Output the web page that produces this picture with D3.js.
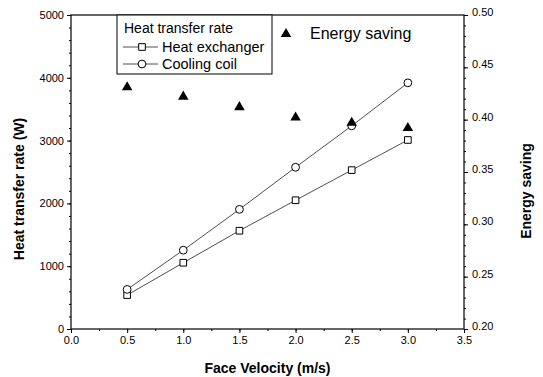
<!DOCTYPE html>
<html>
<head>
<meta charset="utf-8">
<script src="https://cdn.jsdelivr.net/npm/d3@7/dist/d3.min.js"></script>
<style>
  html, body { margin: 0; padding: 0; background: #fff; }
  svg { display: block; font-family: "Liberation Sans", Arial, sans-serif; }
  .axis path, .axis line { stroke: #000; }
  .axis text { font-size: 11px; fill: #000; }
</style>
</head>
<body>
<svg id="chart" width="543" height="377"></svg>
<script>
const velocity = [0.5, 1.0, 1.5, 2.0, 2.5, 3.0];
const heatExchanger = [540, 1055, 1565, 2050, 2530, 3010];
const coolingCoil = [630, 1255, 1905, 2575, 3235, 3920];
const energySaving = [0.431, 0.422, 0.412, 0.402, 0.397, 0.392];

const xTicks = [0, 0.5, 1.0, 1.5, 2.0, 2.5, 3.0, 3.5];
const yLeftTicks = [0, 1000, 2000, 3000, 4000, 5000];
const yRightTicks = [0.20, 0.25, 0.30, 0.35, 0.40, 0.45, 0.50];

const xTitle = "Face Velocity (m/s)";
const yLeftTitle = "Heat transfer rate (W)";
const yRightTitle = "Energy saving";
const legendTitle = "Heat transfer rate";
const seriesNames = ["Heat exchanger", "Cooling coil"];
const energyLabel = "Energy saving";

const svg = d3.select("#chart");
const L = 71, R = 464, T = 15, B = 329;

const x = d3.scaleLinear().domain([0, 3.5]).range([L, R]);
const yL = d3.scaleLinear().domain([0, 5000]).range([B, T]);
const yR = d3.scaleLinear().domain([0.20, 0.50]).range([B, T]);

// frame
svg.append("rect").attr("x", L).attr("y", T).attr("width", R - L).attr("height", B - T)
  .attr("fill", "none").attr("stroke", "#000").attr("stroke-width", 1.2);

// minor ticks
svg.append("g").attr("class", "axis").attr("transform", `translate(0,${B})`)
  .call(d3.axisBottom(x).tickValues(d3.range(0, 3.51, 0.25)).tickSize(2).tickSizeOuter(0).tickFormat(""))
  .call(g => g.select(".domain").remove());
svg.append("g").attr("class", "axis").attr("transform", `translate(${L},0)`)
  .call(d3.axisLeft(yL).tickValues(d3.range(0, 5001, 200)).tickSize(2).tickSizeOuter(0).tickFormat(""))
  .call(g => g.select(".domain").remove());
svg.append("g").attr("class", "axis").attr("transform", `translate(${R},0)`)
  .call(d3.axisRight(yR).tickValues(d3.range(0, 31, 1).map(i => 0.20 + i * 0.01)).tickSize(2).tickSizeOuter(0).tickFormat(""))
  .call(g => g.select(".domain").remove());

// major axes
svg.append("g").attr("class", "axis").attr("transform", `translate(0,${B})`)
  .call(d3.axisBottom(x).tickValues(xTicks).tickSize(4).tickSizeOuter(0).tickPadding(3).tickFormat(d3.format(".1f")))
  .call(g => g.select(".domain").remove());
svg.append("g").attr("class", "axis").attr("transform", `translate(${L},0)`)
  .call(d3.axisLeft(yL).tickValues(yLeftTicks).tickSize(4).tickSizeOuter(0).tickPadding(3).tickFormat(d3.format("d")))
  .call(g => g.select(".domain").remove());
svg.append("g").attr("class", "axis").attr("transform", `translate(${R},0)`)
  .call(d3.axisRight(yR).tickValues(yRightTicks).tickSize(4).tickSizeOuter(0).tickPadding(4).tickFormat(d3.format(".2f")))
  .call(g => g.select(".domain").remove())
  .call(g => g.selectAll("text").attr("dy", "0.05em"));

// axis titles
svg.append("text").attr("x", (L + R) / 2).attr("y", 373).attr("text-anchor", "middle")
  .attr("font-size", 14).attr("font-weight", "bold").text(xTitle);
svg.append("text").attr("transform", `translate(24,189) rotate(-90)`).attr("text-anchor", "middle")
  .attr("font-size", 14).attr("font-weight", "bold").text(yLeftTitle);
svg.append("text").attr("transform", `translate(531,191) rotate(-90)`).attr("text-anchor", "middle")
  .attr("font-size", 14).attr("font-weight", "bold").text(yRightTitle);

// lines
const lineHX = d3.line().x((d, i) => x(velocity[i])).y(d => yL(d));
svg.append("path").attr("d", lineHX(heatExchanger)).attr("fill", "none").attr("stroke", "#222").attr("stroke-width", 0.8);
svg.append("path").attr("d", lineHX(coolingCoil)).attr("fill", "none").attr("stroke", "#222").attr("stroke-width", 0.8);

const sq = d3.symbol().type(d3.symbolSquare).size(44);
const ci = d3.symbol().type(d3.symbolCircle).size(48);
const tri = d3.symbol().type(d3.symbolTriangle).size(48);

svg.append("g").selectAll("path").data(heatExchanger).join("path")
  .attr("d", sq).attr("transform", (d, i) => `translate(${x(velocity[i])},${yL(d)})`)
  .attr("fill", "#fff").attr("stroke", "#000").attr("stroke-width", 1);
svg.append("g").selectAll("path").data(coolingCoil).join("path")
  .attr("d", ci).attr("transform", (d, i) => `translate(${x(velocity[i])},${yL(d)})`)
  .attr("fill", "#fff").attr("stroke", "#000").attr("stroke-width", 1);
svg.append("g").selectAll("path").data(energySaving).join("path")
  .attr("d", tri).attr("transform", (d, i) => `translate(${x(velocity[i])},${yR(d)})`)
  .attr("fill", "#000");

// legend box
const lg = svg.append("g");
lg.append("rect").attr("x", 117).attr("y", T).attr("width", 155).attr("height", 59)
  .attr("fill", "#fff").attr("stroke", "#000").attr("stroke-width", 1);
lg.append("text").attr("x", 124).attr("y", 33).attr("font-size", 14).text(legendTitle);
const rows = [47, 64];
[sq, ci].forEach((sym, k) => {
  lg.append("line").attr("x1", 123).attr("x2", 158).attr("y1", rows[k]).attr("y2", rows[k])
    .attr("stroke", "#222").attr("stroke-width", 0.8);
  lg.append("path").attr("d", sym).attr("transform", `translate(142,${rows[k]})`)
    .attr("fill", "#fff").attr("stroke", "#000");
  lg.append("text").attr("x", 162).attr("y", rows[k] + 5).attr("font-size", 14.5).text(seriesNames[k]);
});

// energy saving legend
svg.append("path").attr("d", tri).attr("transform", "translate(286,34)").attr("fill", "#000");
svg.append("text").attr("x", 310).attr("y", 39).attr("font-size", 16).text(energyLabel);
</script>
</body>
</html>
